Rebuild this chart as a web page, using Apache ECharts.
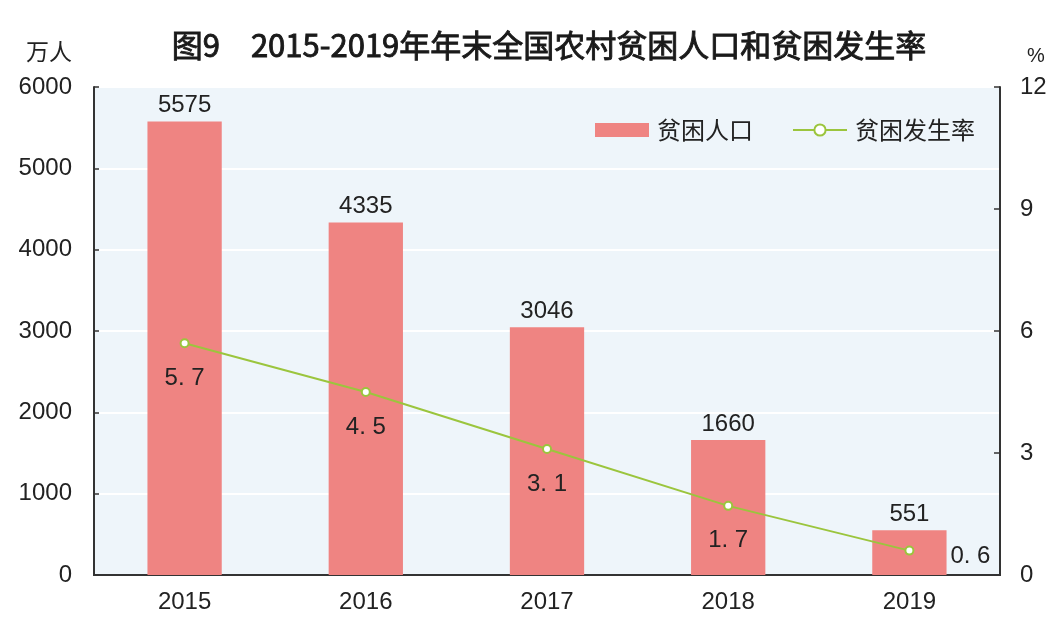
<!DOCTYPE html>
<html><head><meta charset="utf-8">
<script src="https://cdn.jsdelivr.net/npm/echarts@6/dist/echarts.min.js"></script>
<style>html,body{margin:0;padding:0;background:#fff}#c{width:1060px;height:630px}</style>
</head><body><div id="c"></div>
<script>
const categories = ['2015','2016','2017','2018','2019'];
const poorPopulation = [5575, 4335, 3046, 1660, 551];
const povertyRate = [5.7, 4.5, 3.1, 1.7, 0.6];
const leftTicks = [0, 1000, 2000, 3000, 4000, 5000, 6000];
const rightTicks = [0, 3, 6, 9, 12];

const F = '"Liberation Sans", "Noto Sans CJK SC", sans-serif';
const CJK = '"Noto Sans CJK SC", sans-serif';
const chart = echarts.init(document.getElementById('c'), null, {renderer:'canvas'});
chart.setOption({
  animation: false,
  title: {
    text: '图9　2015-2019年年末全国农村贫困人口和贫困发生率',
    left: 544, top: 25, textAlign: 'center',
    textStyle: {fontFamily: CJK, fontSize: 31, fontWeight: 'normal', color: '#1a1a1a',
      textBorderColor: '#1a1a1a', textBorderWidth: 0.9}
  },
  legend: {
    top: 113, left: 590, itemGap: 39, itemWidth: 54, itemHeight: 14,
    textStyle: {fontFamily: CJK, fontSize: 24, color: '#222', padding: [0, 0, 0, 3]},
    data: [
      {name: '贫困人口', icon: 'rect'},
      {name: '贫困发生率'}
    ]
  },
  grid: {left: 94, right: 60, top: 87, bottom: 55, show: true, backgroundColor: '#EEF5FA', borderWidth: 0},
  xAxis: [
    {type: 'category', data: categories,
     axisLine: {lineStyle: {color: '#333', width: 2}},
     axisTick: {inside: true, length: 8, lineStyle: {color: '#333', width: 1.5}},
     axisLabel: {fontFamily: F, fontSize: 24, color: '#222', margin: 15}},
    {type: 'category', data: categories, position: 'top',
     axisLine: {lineStyle: {color: '#333', width: 2}},
     axisTick: {show: false}, axisLabel: {show: false}}
  ],
  yAxis: [
    {type: 'value', min: 0, max: 6000, interval: 1000, name: '万人',
     nameLocation: 'end', nameGap: 24, nameTextStyle: {fontFamily: CJK, fontSize: 23, color: '#222', align: 'right', padding: [0, 22, 0, 0]},
     axisLine: {show: true, lineStyle: {color: '#333', width: 2}},
     axisTick: {show: true, inside: true, length: 5, lineStyle: {color: '#333', width: 1.5}},
     splitLine: {show: true, lineStyle: {color: '#fff', width: 2}},
     axisLabel: {fontFamily: F, fontSize: 24, color: '#222', margin: 22, formatter: v => String(v)}},
    {type: 'value', min: 0, max: 12, interval: 3, name: '%',
     nameLocation: 'end', nameGap: 21, nameTextStyle: {fontFamily: F, fontSize: 20, color: '#222', align: 'left', padding: [0, 0, 0, 27]},
     axisLine: {show: true, lineStyle: {color: '#333', width: 2}},
     axisTick: {show: true, inside: true, length: 6, lineStyle: {color: '#333', width: 1.5}},
     splitLine: {show: false},
     axisLabel: {fontFamily: F, fontSize: 24, color: '#222', margin: 20, formatter: v => String(v)}}
  ],
  series: [
    {name: '贫困人口', type: 'bar', data: poorPopulation, barWidth: '41%',
     itemStyle: {color: '#EF8482'},
     label: {show: true, position: 'top', distance: 4, fontFamily: F, fontSize: 24, color: '#222'}},
    {name: '贫困发生率', type: 'line', yAxisIndex: 1,
     data: povertyRate.map((v, i) => i === 4 ? {value: v, label: {position: 'right', distance: 36, offset: [0, 6]}} : v),
     symbol: 'circle', symbolSize: 8,
     lineStyle: {color: '#9BC53D', width: 2},
     itemStyle: {color: '#fff', borderColor: '#9BC53D', borderWidth: 2},
     label: {show: true, position: 'bottom', distance: 18, fontFamily: F, fontSize: 24, color: '#222',
       formatter: p => String(p.value).replace('.', '. ')}}
  ]
});
</script></body></html>
